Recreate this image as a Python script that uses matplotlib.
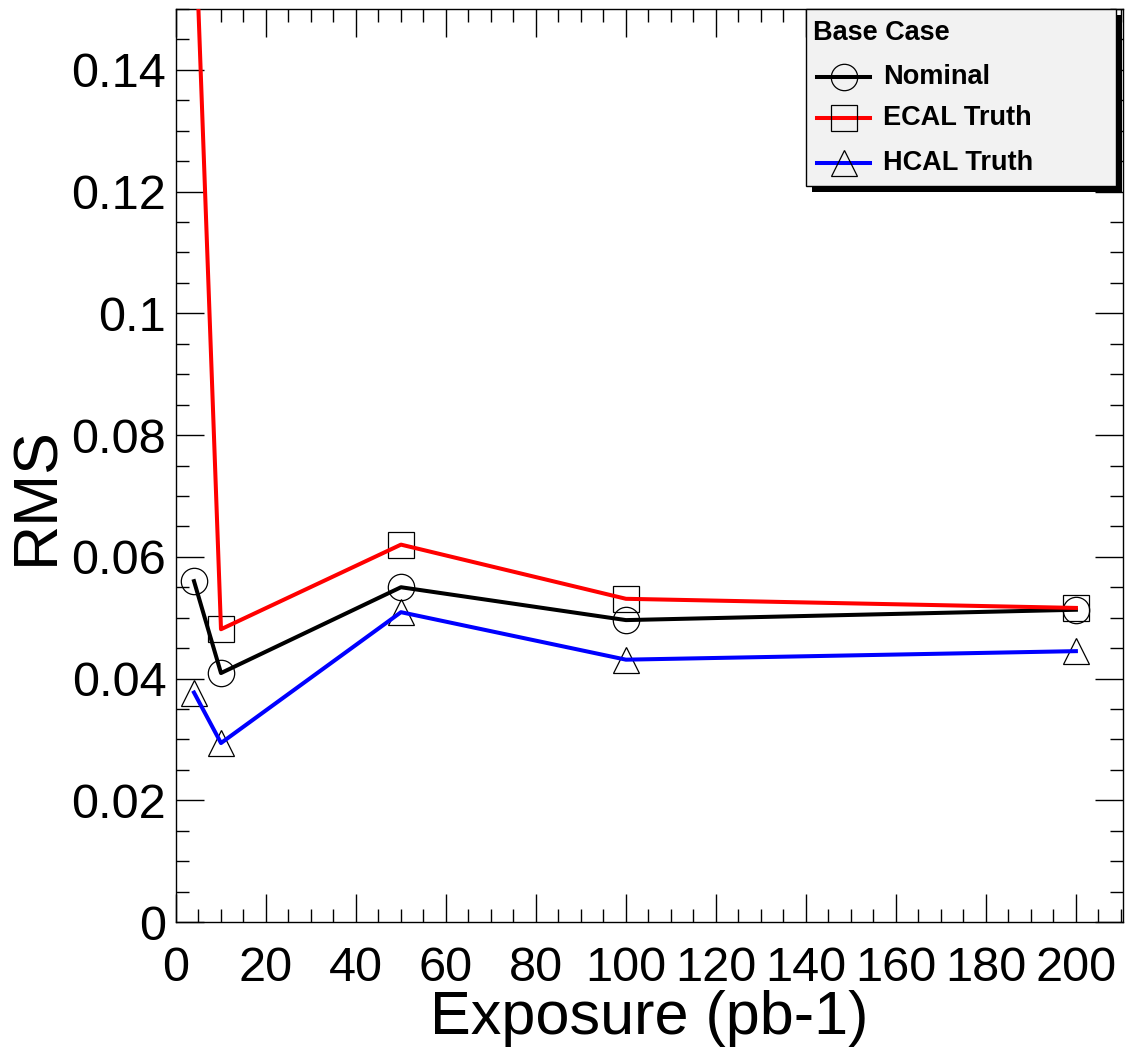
"""RMS vs exposure for the base case: nominal, ECAL truth and HCAL truth."""

import matplotlib
matplotlib.use("Agg")
import matplotlib.pyplot as plt
from matplotlib.lines import Line2D
from matplotlib.patches import Rectangle
from matplotlib.ticker import MultipleLocator, FuncFormatter

# exposure points (pb-1)
exposure = [4, 10, 50, 100, 200]

# RMS per series
rms_nominal = [0.0560, 0.0409, 0.0550, 0.0496, 0.0513]
rms_ecal = [0.170, 0.0481, 0.0620, 0.0531, 0.0516]
rms_hcal = [0.0377, 0.0294, 0.0509, 0.0431, 0.0445]

series_names = ["Nominal", "ECAL Truth", "HCAL Truth"]
series_colors = ["black", "red", "blue"]
series_markers = ["o", "s", "^"]
legend_title = "Base Case"

W, H = 1133, 1051
plt.rcParams["font.family"] = ["Liberation Sans", "DejaVu Sans"]

fig = plt.figure(figsize=(W / 100, H / 100), dpi=100)
ax = fig.add_axes([176 / W, 1 - 922 / H, (1122.7 - 176) / W, (922 - 9) / H])

for vals, color, marker in zip([rms_nominal, rms_ecal, rms_hcal], series_colors, series_markers):
    ax.plot(exposure, vals, linestyle="none", marker=marker, markersize=19,
            markerfacecolor="none", markeredgecolor="black", markeredgewidth=0.9,
            zorder=2, clip_on=True)
    ax.plot(exposure, vals, color=color, linewidth=2.9, zorder=3)

ax.set_xlim(0, 210.4)
ax.set_ylim(0, 0.15)
ax.xaxis.set_major_locator(MultipleLocator(20))
ax.xaxis.set_minor_locator(MultipleLocator(5))
ax.yaxis.set_major_locator(MultipleLocator(0.02))
ax.yaxis.set_minor_locator(MultipleLocator(0.005))
ax.yaxis.set_major_formatter(FuncFormatter(lambda v, p: f"{v:g}"))

ax.tick_params(which="both", direction="in", top=True, right=True, width=1.0, labelsize=35)
ax.tick_params(which="major", length=20)
ax.tick_params(which="minor", length=9.5)
ax.tick_params(axis="x", which="major", pad=17)
ax.tick_params(axis="y", which="major", pad=7)
for sp in ax.spines.values():
    sp.set_linewidth(1.0)

ax.set_xlabel("Exposure (pb-1)", fontsize=44)
ax.set_ylabel("RMS", fontsize=45)
ax.xaxis.set_label_coords(0.5, (922 - 990) / 913)
ax.xaxis.label.set_va("top")
ax.yaxis.set_label_coords((37 - 176) / 946.7, (922 - 496) / 913)
ax.yaxis.label.set_va("center")


# legend box drawn in figure pixels, ROOT style with black drop shadow
def fx(x):
    return x / W


def fy(y):
    return 1 - y / H


fig.add_artist(Rectangle((fx(812), fy(192)), fx(1122) - fx(812), fy(15) - fy(192),
                         transform=fig.transFigure, facecolor="black", edgecolor="none", zorder=10))
fig.add_artist(Rectangle((fx(806), fy(186)), fx(1116) - fx(806), fy(9) - fy(186),
                         transform=fig.transFigure, facecolor="#f2f2f2", edgecolor="black",
                         linewidth=1.0, zorder=11))
fig.text(fx(813), fy(32.5), legend_title, fontsize=19.5, fontweight="bold",
         ha="left", va="center", zorder=12)
for name, color, marker, yc in zip(series_names, series_colors, series_markers, [77, 118, 163]):
    fig.add_artist(Line2D([fx(817), fx(870)], [fy(yc), fy(yc)], transform=fig.transFigure,
                          color=color, linewidth=2.9, zorder=12))
    fig.add_artist(Line2D([fx(843.5)], [fy(yc)], transform=fig.transFigure, linestyle="none",
                          marker=marker, markersize=19, markerfacecolor="none",
                          markeredgecolor="black", markeredgewidth=0.9, zorder=13))
    fig.text(fx(883), fy(yc), name, fontsize=19.5, fontweight="bold",
             ha="left", va="center", zorder=12)

fig.savefig("out.png", dpi=100)
